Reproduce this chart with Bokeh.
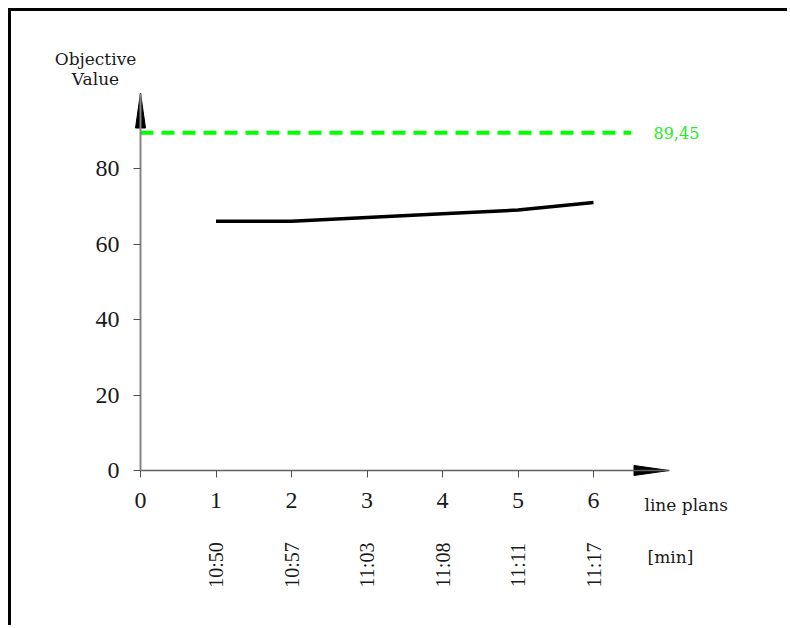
import math
from bokeh.plotting import figure
from bokeh.models import Range1d, FixedTicker, Label, LabelSet, ColumnDataSource
from bokeh.embed import file_html
from bokeh.resources import INLINE

# ---------------- data ----------------
plans = [1, 2, 3, 4, 5, 6]
objective = [66, 66, 67, 68, 69, 71]
times = ["10:50", "10:57", "11:03", "11:08", "11:11", "11:17"]
x_ticks = [0, 1, 2, 3, 4, 5, 6]
y_ticks = [0, 20, 40, 60, 80]
target_value = 89.45
target_text = "89,45"
x_label = "line plans"
time_label = "[min]"
y_label = "Objective\nValue"

# ---------------- layout (page pixels) ----------------
CANVAS_L, CANVAS_T = 11, 11
W, H = 779, 617
FRAME_L, FRAME_T = CANVAS_L, CANVAS_T
FRAME_R, FRAME_B = CANVAS_L + W, CANVAS_T + H
ORIGIN_X, ORIGIN_Y = 140, 470
PX_X = 75.5      # pixels per line plan
PX_Y = 3.775     # pixels per objective unit
X_AXIS_END = 7
Y_AXIS_END = 100
TARGET_X_END = 6.5

x0 = -(ORIGIN_X - FRAME_L) / PX_X
y0 = -(FRAME_B - ORIGIN_Y) / PX_Y


def dx(px):
    return x0 + (px - FRAME_L) / PX_X


def dy(py):
    return y0 + (FRAME_B - py) / PX_Y


p = figure(width=W, height=H,
           x_range=Range1d(x0, x0 + (FRAME_R - FRAME_L) / PX_X),
           y_range=Range1d(y0, y0 + (FRAME_B - FRAME_T) / PX_Y),
           output_backend="svg", toolbar_location=None, min_border=0)
p.styles = {"margin-left": "8px", "margin-top": "8px",
            "border-top": "3px solid black", "border-left": "3px solid black"}
p.outline_line_color = None
p.xgrid.visible = False
p.ygrid.visible = False
p.background_fill_color = "white"
p.border_fill_color = "white"

TEXT = "#1a1a1a"
NUM_FONT = "Liberation Serif"
SMALL_FONT = "DejaVu Serif"

xa = p.xaxis[0]
xa.fixed_location = 0
xa.bounds = (0, X_AXIS_END)
xa.ticker = FixedTicker(ticks=x_ticks)
xa.axis_line_color = "#606060"
xa.axis_line_width = 1.5
xa.major_tick_out = 7
xa.major_tick_in = 0
xa.major_tick_line_color = "#505050"
xa.minor_tick_line_color = None
xa.major_label_text_font = NUM_FONT
xa.major_label_text_font_size = "24px"
xa.major_label_text_color = TEXT
xa.major_label_standoff = 15

ya = p.yaxis[0]
ya.fixed_location = 0
ya.bounds = (0, Y_AXIS_END)
ya.ticker = FixedTicker(ticks=y_ticks)
ya.axis_line_color = "#858585"
ya.axis_line_width = 2
ya.major_tick_out = 7
ya.major_tick_in = 0
ya.major_tick_line_color = "#505050"
ya.minor_tick_line_color = None
ya.major_label_text_font = NUM_FONT
ya.major_label_text_font_size = "24px"
ya.major_label_text_color = TEXT
ya.major_label_standoff = 14

# arrow heads at the ends of the axes
head_len, head_half = 35, 5
p.patch([X_AXIS_END - head_len / PX_X, X_AXIS_END, X_AXIS_END - head_len / PX_X],
        [head_half / PX_Y, 0, -head_half / PX_Y], color="black")
p.patch([-head_half / PX_X, 0, head_half / PX_X],
        [Y_AXIS_END - head_len / PX_Y, Y_AXIS_END, Y_AXIS_END - head_len / PX_Y], color="black")

# target line
p.line([0, TARGET_X_END], [target_value, target_value], color="#00ff00",
       line_width=4, line_dash="13 8")
p.add_layout(Label(x=dx(653), y=target_value, text=target_text, text_align="left",
                   text_baseline="middle", text_font=SMALL_FONT, text_font_size="16px",
                   text_color="#22ee22"))

# objective line
p.line(plans, objective, color="black", line_width=3.5)

# texts
p.add_layout(Label(x=dx(95), y=dy(48), text=y_label, text_align="center",
                   text_baseline="top", text_font=SMALL_FONT, text_font_size="17px",
                   text_line_height=1.0, text_color=TEXT))
p.add_layout(Label(x=dx(644), y=dy(504), text=x_label, text_align="left",
                   text_baseline="middle", text_font=SMALL_FONT, text_font_size="17px",
                   text_color=TEXT))
p.add_layout(Label(x=dx(647), y=dy(556), text=time_label, text_align="left",
                   text_baseline="middle", text_font=SMALL_FONT, text_font_size="17px",
                   text_color=TEXT))

src = ColumnDataSource(dict(x=plans, y=[dy(564.5)] * len(plans), t=times))
p.add_layout(LabelSet(x="x", y="y", text="t", source=src, angle=math.pi / 2,
                      text_align="center", text_baseline="middle",
                      text_font=NUM_FONT, text_font_size="20px", text_color=TEXT))

open("out.html", "w").write(file_html(p, INLINE))
